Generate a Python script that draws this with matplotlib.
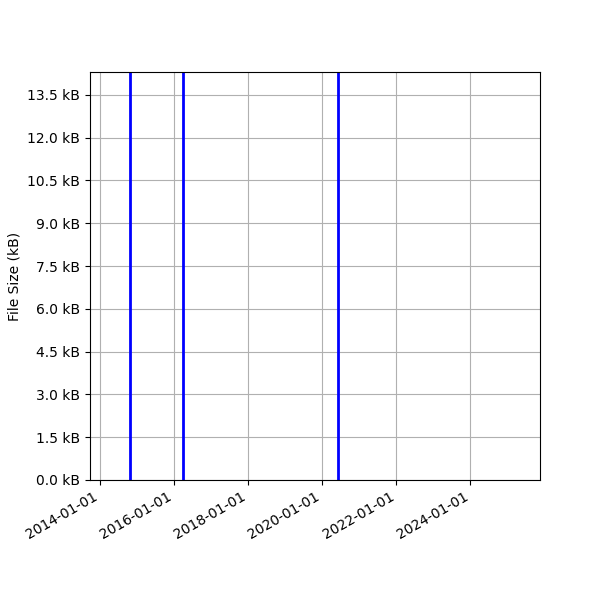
import pandas as pd
import numpy as np
import matplotlib
matplotlib.use("Agg")
import matplotlib.pyplot as plt
import matplotlib.dates as mdates
from matplotlib.ticker import FuncFormatter, MultipleLocator

# Dates of the file size changes (lines span the whole y range)
dates = pd.to_datetime(['2014-10-28', '2016-04-02', '2020-06-03'])

x_min = pd.Timestamp('2013-09-27')
x_max = pd.Timestamp('2025-11-16')
y_max = 14300  # bytes

fig, ax = plt.subplots(figsize=(6, 6), dpi=100)
for d in dates:
    ax.axvline(d, color='blue', linewidth=2)

ax.set_xlim(x_min, x_max)
ax.set_ylim(0, y_max)
ax.yaxis.set_major_locator(MultipleLocator(1500))
ax.yaxis.set_major_formatter(FuncFormatter(lambda v, p: f"{v / 1000:.1f} kB"))
ax.xaxis.set_major_locator(mdates.YearLocator(2))
ax.xaxis.set_major_formatter(mdates.DateFormatter('%Y-%m-%d'))
ax.set_ylabel('File Size (kB)')
ax.grid(True)
fig.autofmt_xdate()
plt.subplots_adjust(left=0.15, right=0.9, top=0.88, bottom=0.2)
plt.savefig('out.png')
